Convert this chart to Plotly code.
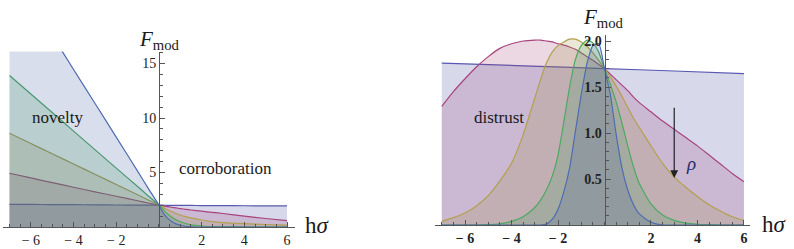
import plotly.graph_objects as go

# ---------------- data: left panel ----------------
xL = [-7, -6, -5, -4, -3, -2, -1, -0.5, 0, 0.2, 0.4, 0.6, 0.8, 1, 1.25, 1.5, 2, 2.5, 3, 4, 5, 6]
left_flat = [2.08, 2.07, 2.06, 2.05, 2.03, 2.02, 2.01, 2.0, 2.0, 2.0, 1.99, 1.99, 1.99, 1.99, 1.98, 1.98, 1.97, 1.97, 1.96, 1.95, 1.94, 1.93]
left_mag = [4.93, 4.5, 4.07, 3.65, 3.23, 2.82, 2.41, 2.2, 2.0, 1.93, 1.87, 1.81, 1.75, 1.69, 1.62, 1.56, 1.45, 1.34, 1.24, 1.0, 0.78, 0.58]
left_yel = [8.6, 7.66, 6.72, 5.78, 4.84, 3.9, 2.96, 2.48, 2.0, 1.78, 1.58, 1.4, 1.24, 1.1, 0.95, 0.83, 0.64, 0.5, 0.41, 0.31, 0.23, 0.18]
left_grn = [13.9, 12.2, 10.5, 8.8, 7.1, 5.4, 3.72, 2.85, 2.0, 1.6, 1.22, 0.9, 0.66, 0.48, 0.32, 0.2, 0.09, 0.04, 0.02, 0.0, 0.0, 0.0]
left_blu = [23.8, 20.7, 17.6, 14.45, 11.35, 8.25, 5.12, 3.55, 2.0, 1.3, 0.82, 0.5, 0.29, 0.16, 0.07, 0.02, 0.0, 0.0, 0.0, 0.0, 0.0, 0.0]

# ---------------- data: right panel ----------------
xR_flat = [-7, -3.5, 0, 3, 6]
right_flat = [1.76, 1.73, 1.70, 1.674, 1.645]
xR = [-7, -6.5, -6, -5.5, -5, -4.5, -4, -3.5, -3, -2.75, -2.5, -2.25, -2, -1.75, -1.5, -1.25, -1, -0.75,
      -0.5, -0.25, 0, 0.25, 0.5, 0.75, 1, 1.25, 1.5, 2, 2.5, 3, 3.5, 4, 4.5, 5, 5.5, 6]
right_mag = [1.29, 1.45, 1.59, 1.72, 1.83, 1.92, 1.97, 2.0, 2.01, 2.01, 2.0, 1.99, 1.97, 1.955, 1.935, 1.91, 1.87, 1.83,
             1.79, 1.745, 1.70, 1.64, 1.58, 1.52, 1.46, 1.39, 1.33, 1.23, 1.13, 1.04, 0.95, 0.86, 0.76, 0.66, 0.56, 0.47]
right_yel = [0.04, 0.08, 0.13, 0.21, 0.32, 0.48, 0.67, 0.98, 1.38, 1.58, 1.76, 1.88, 1.95, 1.99, 2.02, 2.02, 1.99, 1.94,
             1.87, 1.79, 1.70, 1.61, 1.51, 1.4, 1.28, 1.16, 1.06, 0.86, 0.67, 0.52, 0.41, 0.31, 0.22, 0.15, 0.09, 0.05]
right_grn = [0, 0, 0, 0, 0.003, 0.012, 0.04, 0.09, 0.19, 0.27, 0.38, 0.53, 0.76, 1.12, 1.5, 1.8, 1.95, 2.01,
             1.98, 1.88, 1.70, 1.53, 1.34, 1.11, 0.86, 0.63, 0.45, 0.23, 0.11, 0.05, 0.02, 0.008, 0.003, 0, 0, 0]
right_blu = [0, 0, 0, 0, 0, 0, 0, 0, 0, 0, 0.01, 0.06, 0.17, 0.36, 0.62, 1.02, 1.42, 1.76,
             1.95, 1.97, 1.70, 1.42, 0.99, 0.62, 0.38, 0.22, 0.12, 0.03, 0, 0, 0, 0, 0, 0, 0, 0]

x_tick_vals = [-6, -4, -2, 2, 4, 6]
x_tick_text = ["\u2212 6", "\u2212 4", "\u2212 2", "2", "4", "6"]
yL_tick_vals = [5, 10, 15]
yL_tick_text = ["5", "10", "15"]
yR_tick_vals = [0.5, 1.0, 1.5, 2.0]
yR_tick_text = ["0.5", "1.0", "1.5", "2.0"]

# ---------------- styles ----------------
line_cols = ["rgb(88,88,178)", "rgb(168,68,125)", "rgb(178,160,78)", "rgb(78,168,98)", "rgb(78,108,178)"]
fill_cols = ["rgba(61,61,153,0.2)", "rgba(153,61,113,0.2)", "rgba(153,139,61,0.2)",
             "rgba(61,153,84,0.2)", "rgba(61,91,153,0.2)"]
W, H = 794, 249
SERIF = "Liberation Serif, DejaVu Serif, Noto Serif, serif"


def px(x):
    return x / W


def py(y):
    return 1 - y / H


fig = go.Figure()

left_series = [left_flat, left_mag, left_yel, left_grn, left_blu]
for i, ys in enumerate(left_series):
    fig.add_trace(go.Scatter(x=xL, y=ys, mode="lines", line=dict(color=line_cols[i], width=1.2, shape="spline", smoothing=0.6),
                             fill="tozeroy", fillcolor=fill_cols[i], xaxis="x", yaxis="y", showlegend=False,
                             hoverinfo="skip"))

right_series = [(xR_flat, right_flat), (xR, right_mag), (xR, right_yel), (xR, right_grn), (xR, right_blu)]
for i, (xs, ys) in enumerate(right_series):
    fig.add_trace(go.Scatter(x=xs, y=ys, mode="lines", line=dict(color=line_cols[i], width=1.2, shape="spline", smoothing=0.6),
                             fill="tozeroy", fillcolor=fill_cols[i], xaxis="x2", yaxis="y2", showlegend=False,
                             hoverinfo="skip"))

axis_common = dict(showline=True, linecolor="#555", linewidth=1, ticks="inside", ticklen=5, tickcolor="#555",
                   showgrid=False, zeroline=False, tickmode="array", fixedrange=True, automargin=False)

fig.update_layout(
    width=W, height=H, margin=dict(l=0, r=0, t=0, b=0, autoexpand=False),
    plot_bgcolor="white", paper_bgcolor="white", showlegend=False,
    font=dict(family=SERIF),
    xaxis=dict(domain=[px(3.1), px(294.5)], range=[-7.3, 6.35], anchor="y",
               tickvals=x_tick_vals, ticktext=x_tick_text,
               tickfont=dict(family=SERIF, size=14, color="#222"),
               minor=dict(ticks="inside", ticklen=3, tickmode="linear", tick0=0, dtick=0.5, tickcolor="#555",
                          showgrid=False),
               **axis_common),
    yaxis=dict(domain=[py(227), py(227 - 10.9 * 16.1)], range=[0, 16.1], anchor="free", position=px(159),
               tickvals=yL_tick_vals, ticktext=yL_tick_text,
               tickfont=dict(family=SERIF, size=14, color="#222"),
               minor=dict(ticks="inside", ticklen=3, tickmode="linear", tick0=0, dtick=1, tickcolor="#555",
                          showgrid=False),
               **axis_common),
    xaxis2=dict(domain=[px(434.8), px(750.0)], range=[-7.3, 6.26], anchor="y2",
                tickvals=x_tick_vals, ticktext=x_tick_text,
                tickfont=dict(family=SERIF, size=14, color="#222", weight="bold"),
                minor=dict(ticks="inside", ticklen=3, tickmode="linear", tick0=0, dtick=0.5, tickcolor="#555",
                           showgrid=False),
                **axis_common),
    yaxis2=dict(domain=[py(225), py(225 - 92 * 2.07)], range=[0, 2.07], anchor="free", position=px(604.5),
                tickvals=yR_tick_vals, ticktext=yR_tick_text,
                tickfont=dict(family=SERIF, size=14, color="#222", weight="bold"),
                minor=dict(ticks="inside", ticklen=3, tickmode="linear", tick0=0, dtick=0.1, tickcolor="#555",
                           showgrid=False),
                **axis_common),
)

ann_font = dict(family=SERIF, size=17, color="#1a1a1a")
texts = [
    ("novelty", 57, 117, "center"),
    ("corroboration", 225, 168, "center"),
    ("distrust", 499, 117, "center"),
]
for t, x, y, anc in texts:
    fig.add_annotation(text=t, x=px(x), y=py(y), xref="paper", yref="paper", showarrow=False,
                       xanchor=anc, yanchor="middle", font=ann_font)

for (x, y) in [(137, 40), (581, 18)]:
    fig.add_annotation(text="<i>F</i><sub>mod</sub>", x=px(x), y=py(y), xref="paper", yref="paper",
                       showarrow=False, xanchor="left", yanchor="middle",
                       font=dict(family=SERIF, size=21, color="#1a1a1a"))

for (x, y) in [(303, 225), (760, 224)]:
    fig.add_annotation(text="h<i>\u03c3</i>", x=px(x), y=py(y), xref="paper", yref="paper",
                       showarrow=False, xanchor="left", yanchor="middle",
                       font=dict(family=SERIF, size=23, color="#1a1a1a"))

fig.add_annotation(text="<i>\u03c1</i>", x=px(691), y=py(163), xref="paper", yref="paper", showarrow=False,
                   xanchor="center", yanchor="middle", font=dict(family=SERIF, size=19, color="rgb(35,45,105)"))

fig.add_annotation(text="", x=3, y=0.51, xref="x2", yref="y2", ax=3, ay=1.29, axref="x2", ayref="y2",
                   showarrow=True, arrowhead=2, arrowsize=1.3, arrowwidth=1.2, arrowcolor="#222")

fig.write_html("out.html", config={"staticPlot": True},
               post_script="document.body.style.margin='0px';document.body.style.padding='0px';document.body.style.overflow='hidden';")
